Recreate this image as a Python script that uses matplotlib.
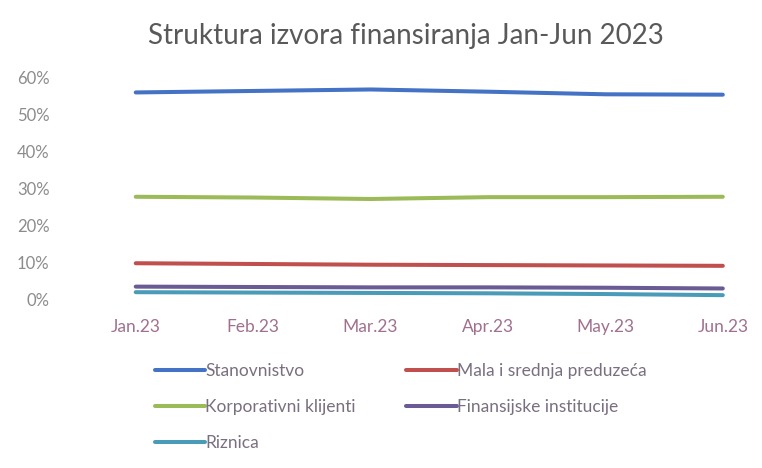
import matplotlib.pyplot as plt
from matplotlib.ticker import PercentFormatter

months = ['Jan.23', 'Feb.23', 'Mar.23', 'Apr.23', 'May.23', 'Jun.23']
stanovnistvo = [0.559, 0.563, 0.567, 0.561, 0.554, 0.553]
mala_srednja = [0.099, 0.097, 0.095, 0.094, 0.093, 0.092]
korporativni = [0.278, 0.276, 0.272, 0.277, 0.277, 0.278]
finansijske = [0.036, 0.035, 0.034, 0.034, 0.033, 0.031]
riznica = [0.021, 0.020, 0.019, 0.018, 0.016, 0.013]

plt.rcParams['font.family'] = ['Lato', 'DejaVu Sans']
grey = '#8c8c8c'

fig = plt.figure(figsize=(7.62, 4.68), dpi=100)
ax = fig.add_axes([0.098, 0.359, 0.886, 0.476])

x = range(len(months))
l1, = ax.plot(x, stanovnistvo, color='#4472c4', lw=2.9, solid_capstyle='round', label='Stanovnistvo')
l2, = ax.plot(x, mala_srednja, color='#c0504d', lw=2.9, solid_capstyle='round', label='Mala i srednja preduzeća')
l3, = ax.plot(x, korporativni, color='#9bbb59', lw=2.9, solid_capstyle='round', label='Korporativni klijenti')
l4, = ax.plot(x, finansijske, color='#6b5b95', lw=2.9, solid_capstyle='round', label='Finansijske institucije')
l5, = ax.plot(x, riznica, color='#4a9bb8', lw=2.9, solid_capstyle='round', label='Riznica')

ax.set_ylim(0, 0.6)
ax.set_yticks([0, 0.1, 0.2, 0.3, 0.4, 0.5, 0.6])
ax.yaxis.set_major_formatter(PercentFormatter(1.0, decimals=0))
ax.set_xlim(-0.52, 5.23)
ax.set_xticks(list(x))
ax.set_xticklabels(months, color='#a0708f')
ax.tick_params(axis='y', colors=grey, labelsize=12, length=0, pad=18)
ax.tick_params(axis='x', labelsize=12.5, length=0, pad=14)
for s in ax.spines.values():
    s.set_visible(False)

fig.text(0.532, 0.923, 'Struktura izvora finansiranja Jan-Jun 2023', ha='center', va='center',
         fontsize=20, color='#595959')

fig.legend([l1, l3, l5, l2, l4],
           [l.get_label() for l in [l1, l3, l5, l2, l4]],
           ncol=2, loc='upper left', bbox_to_anchor=(0.183, 0.258), frameon=False,
           fontsize=12.5, handlelength=2.9, handletextpad=0.0, columnspacing=2.9,
           labelspacing=1.15, labelcolor='#7a6f80')

fig.savefig('out.png')
